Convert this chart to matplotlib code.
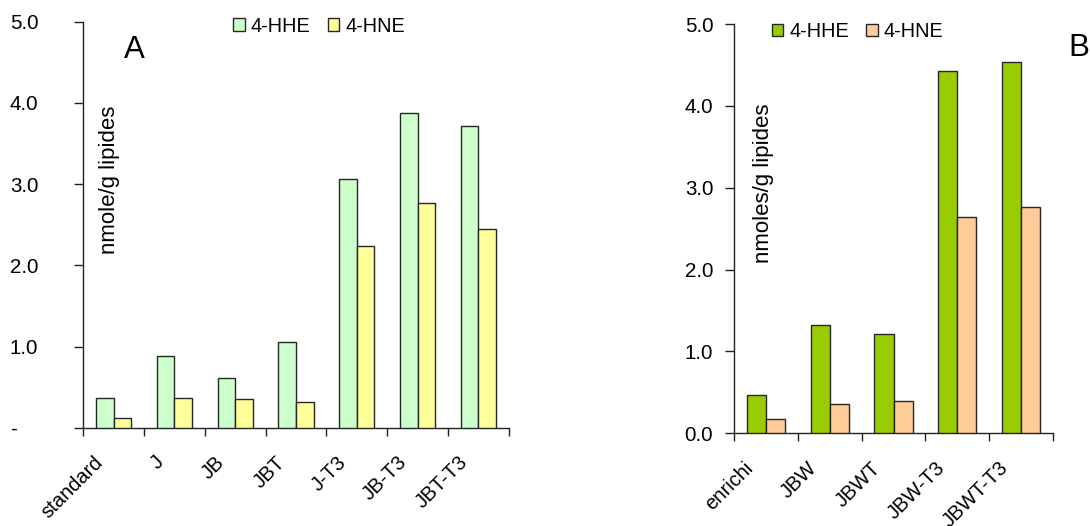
import numpy as np
import matplotlib
matplotlib.use("Agg")
import matplotlib.pyplot as plt
from matplotlib.transforms import ScaledTranslation

plt.rcParams['font.family'] = ['Liberation Sans', 'DejaVu Sans']

# Panel A: standard diet and J/JB/JBT groups
cats_a = ["standard", "J", "JB", "JBT", "J-T3", "JB-T3", "JBT-T3"]
hhe_a = [0.36, 0.88, 0.61, 1.05, 3.06, 3.88, 3.72]
hne_a = [0.12, 0.36, 0.35, 0.32, 2.24, 2.77, 2.45]

# Panel B: enriched diet and JBW/JBWT groups
cats_b = ["enrichi", "JBW", "JBWT", "JBW-T3", "JBWT-T3"]
hhe_b = [0.47, 1.32, 1.21, 4.43, 4.54]
hne_b = [0.18, 0.36, 0.40, 2.64, 2.77]

series = ["4-HHE", "4-HNE"]
yticks = [0, 1, 2, 3, 4, 5]
ytick_labels_a = ["-", "1.0", "2.0", "3.0", "4.0", "5.0"]
ytick_labels_b = ["0.0", "1.0", "2.0", "3.0", "4.0", "5.0"]

W, H = 1090, 526
fig = plt.figure(figsize=(W / 100, H / 100), dpi=100)


def px_rect(l, t, r, b):
    return [l / W, 1 - b / H, (r - l) / W, (b - t) / H]


def panel(rect, cats, hhe, hne, colors, width, ylabels, ylab, letter,
          letter_xy, legend_xy, ytick_ha, ytick_pad, xlab_shift):
    l, t, r, b = rect
    ax = fig.add_axes(px_rect(*rect))
    n = len(cats)
    x = np.arange(n)
    b1 = ax.bar(x - width / 2, hhe, width, color=colors[0], edgecolor='#262626',
                linewidth=1.0, label=series[0], zorder=3)
    b2 = ax.bar(x + width / 2, hne, width, color=colors[1], edgecolor='#262626',
                linewidth=1.0, label=series[1], zorder=3)
    ax.set_xlim(-0.5, n - 0.5)
    ax.set_ylim(0, 5)
    for s in ['top', 'right']:
        ax.spines[s].set_visible(False)
    for s in ['left', 'bottom']:
        ax.spines[s].set_color('#222222')
        ax.spines[s].set_linewidth(1.0)

    # tick marks at category boundaries, labels at category centres
    ax.set_xticks(np.arange(n + 1) - 0.5)
    ax.set_xticklabels([])
    ax.set_xticks(x, minor=True)
    ax.set_xticklabels(cats, minor=True, rotation=45, ha='right', fontsize=14.5)
    ax.tick_params(axis='x', which='major', length=6, width=1.0, color='#222222')
    ax.tick_params(axis='x', which='minor', length=0, pad=18)
    off = ScaledTranslation(xlab_shift / 100, 0, fig.dpi_scale_trans)
    for lab in ax.get_xticklabels(minor=True):
        lab.set_transform(lab.get_transform() + off)

    ax.set_yticks(yticks)
    ax.set_yticklabels(ylabels, fontsize=14.8)
    ax.tick_params(axis='y', length=6.5, width=1.0, color='#222222', pad=ytick_pad)
    for lab in ax.get_yticklabels():
        lab.set_ha(ytick_ha)

    # vertical unit label drawn inside the plot area
    y_top = 5 * (b - ylab[2]) / (b - t)
    ax.text((ylab[1] - l) / (r - l), y_top, ylab[0], rotation=90,
            ha='center', va='top', fontsize=16,
            transform=ax.get_yaxis_transform())

    fig.text(letter_xy[0] / W, 1 - letter_xy[1] / H, letter, fontsize=22.5,
             ha='center', va='center')

    fig.legend(handles=[b1, b2], labels=series, loc='center left',
               bbox_to_anchor=(legend_xy[0] / W, 1 - legend_xy[1] / H),
               ncol=2, frameon=False, fontsize=14.3, handlelength=0.58,
               handleheight=0.58, handletextpad=0.32, columnspacing=0.85,
               borderpad=0, borderaxespad=0)
    return ax


panel((83.3, 21.7, 508.7, 427.7), cats_a, hhe_a, hne_a, ['#CCFFCC', '#FFFF99'],
      0.29, ytick_labels_a, ("nmole/g lipides", 109.8, 106), "A", (134.8, 50.4),
      (233, 26), 'left', 46.5, -7)

panel((734.3, 24, 1052.7, 433.3), cats_b, hhe_b, hne_b, ['#99CC00', '#FFCC99'],
      0.30, ytick_labels_b, ("nmoles/g lipides", 764, 103), "B", (1079, 48.5),
      (771.5, 31.5), 'right', 8.6, -9)

fig.savefig("out.png", dpi=100)
